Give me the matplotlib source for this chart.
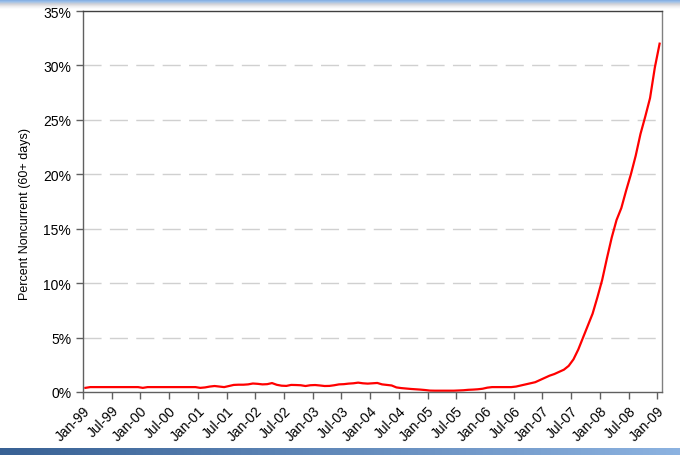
import numpy as np
import matplotlib
matplotlib.use("Agg")
import matplotlib.pyplot as plt

plt.rcParams['font.family'] = ['Liberation Sans', 'DejaVu Sans']

years = ['99', '00', '01', '02', '03', '04', '05', '06', '07', '08', '09']
tick_labels = []
for y in years:
    tick_labels.append('Jan-' + y)
    if y != '09':
        tick_labels.append('Jul-' + y)

# Monthly percent noncurrent (60+ days), Jan-99 .. Jan-09
v1999 = [0.38, 0.45, 0.45, 0.45, 0.45, 0.45, 0.45, 0.45, 0.45, 0.45, 0.45, 0.45]
v2000 = [0.38, 0.45, 0.45, 0.45, 0.45, 0.45, 0.45, 0.45, 0.45, 0.45, 0.45, 0.45]
v2001 = [0.38, 0.42, 0.50, 0.55, 0.50, 0.45, 0.55, 0.65, 0.67, 0.67, 0.70, 0.78]
v2002 = [0.75, 0.70, 0.72, 0.82, 0.66, 0.58, 0.56, 0.65, 0.64, 0.62, 0.55, 0.62]
v2003 = [0.64, 0.60, 0.55, 0.56, 0.62, 0.70, 0.72, 0.77, 0.80, 0.86, 0.80, 0.77]
v2004 = [0.80, 0.83, 0.70, 0.65, 0.60, 0.42, 0.36, 0.32, 0.28, 0.25, 0.22, 0.18]
v2005 = [0.13, 0.12, 0.12, 0.12, 0.12, 0.12, 0.14, 0.16, 0.20, 0.22, 0.25, 0.30]
v2006 = [0.40, 0.45, 0.45, 0.45, 0.45, 0.45, 0.50, 0.60, 0.70, 0.80, 0.90, 1.10]
v2007 = [1.30, 1.50, 1.65, 1.85, 2.05, 2.40, 3.00, 3.90, 5.00, 6.10, 7.20, 8.70]
v2008 = [10.3, 12.3, 14.2, 15.8, 16.9, 18.5, 20.0, 21.7, 23.7, 25.3, 27.0, 29.8]
v2009 = [32.0]

values = v1999 + v2000 + v2001 + v2002 + v2003 + v2004 + v2005 + v2006 + v2007 + v2008 + v2009
n = len(values)

W, H = 680, 456
fig = plt.figure(figsize=(W / 100, H / 100), dpi=100)
fig.patch.set_facecolor('white')

# decorative bands (slide template)
top = fig.add_axes([0, 1 - 10 / H, 1, 10 / H])
grad = np.linspace(0, 1, 50).reshape(-1, 1)
top_cols = np.array([[0.45, 0.62, 0.85], [0.60, 0.75, 0.92], [0.82, 0.82, 0.84], [0.93, 0.93, 0.94], [1, 1, 1]])
ys = np.linspace(0, 1, len(top_cols))
img = np.zeros((50, 1, 3))
for c in range(3):
    img[:, 0, c] = np.interp(grad[:, 0], ys, top_cols[:, c])
top.imshow(img, aspect='auto', extent=[0, 1, 1, 0])
top.set_axis_off()

bot = fig.add_axes([0, 0, 1, 7 / H])
gx = np.linspace(0, 1, 200)
bimg = np.zeros((1, 200, 3))
for c, (a, b) in enumerate(zip([0.22, 0.38, 0.58], [0.55, 0.70, 0.88])):
    bimg[0, :, c] = a + (b - a) * gx
bot.imshow(bimg, aspect='auto', extent=[0, 1, 0, 1])
bot.set_axis_off()

ax = fig.add_axes([83 / W, 1 - 393 / H, (662 - 83) / W, (393 - 12) / H])
x = np.arange(n) + 0.5
ax.plot(x, values, color='#ff0000', lw=1.6, solid_joinstyle='round')

ax.set_xlim(0, n)
ax.set_ylim(0, 35)
ax.set_yticks(np.arange(0, 36, 5))
ax.set_yticklabels([f'{v}%' for v in range(0, 36, 5)], fontsize=10)
ax.set_xticks(np.arange(0, n, 6))
ax.set_xticklabels(tick_labels, rotation=45, ha='right', rotation_mode='anchor', fontsize=10)
for g in range(5, 35, 5):
    ax.axhline(g, color='#d0d0d0', lw=1.0, linestyle=(0, (13, 6)), zorder=0)

for s in ax.spines.values():
    s.set_color('#808080')
    s.set_linewidth(1.0)
ax.spines['left'].set_color('#606060')
ax.spines['bottom'].set_color('#606060')
ax.spines['top'].set_color('#404040')
ax.tick_params(axis='both', direction='out', length=5, color='#606060', width=1.0)
ax.tick_params(axis='x', pad=3)
ax.set_ylabel('Percent Noncurrent (60+ days)', fontsize=9)
ax.yaxis.set_label_coords(-0.09, 0.47)

fig.savefig('out.png', dpi=100)
